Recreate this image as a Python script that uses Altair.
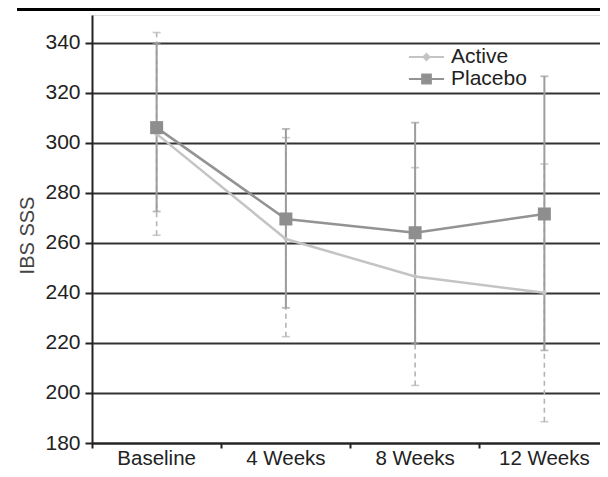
import altair as alt
import pandas as pd

timepoints = ["Baseline", "4 Weeks", "8 Weeks", "12 Weeks"]
treatments = ["Active", "Placebo"]

active_mean = [303.5, 261.5, 246.5, 240.0]
active_low = [263.0, 222.5, 203.0, 188.5]
active_high = [344.0, 302.0, 290.0, 291.5]

placebo_mean = [306.0, 269.5, 264.0, 271.5]
placebo_low = [272.5, 234.0, 219.5, 217.0]
placebo_high = [339.5, 305.5, 308.0, 326.5]

y_ticks = [180, 200, 220, 240, 260, 280, 300, 320, 340]

rows = []
for t, m, lo, hi in zip(timepoints, active_mean, active_low, active_high):
    rows.append({"Treatment": "Active", "Time": t, "mean": m, "low": lo, "high": hi})
for t, m, lo, hi in zip(timepoints, placebo_mean, placebo_low, placebo_high):
    rows.append({"Treatment": "Placebo", "Time": t, "mean": m, "low": lo, "high": hi})
df = pd.DataFrame(rows)

FONT = "Liberation Sans"
W, H = 508, 428
XRANGE = 517  # band extent (last band runs to the page edge)

xenc = alt.X(
    "Time:N",
    sort=timepoints,
    scale=alt.Scale(type="band", paddingInner=0, paddingOuter=0, range=[0, XRANGE]),
    axis=alt.Axis(
        title=None, bandPosition=0, grid=False, labelAngle=0,
        domainColor="#222", domainWidth=2, tickColor="#222", tickWidth=2,
        tickSize=5, labelPadding=0, labelFont=FONT, labelFontSize=20.5,
        labelColor="#222",
    ),
)

yscale = alt.Scale(domain=[180, 351], nice=False, zero=False)
yaxis = alt.Axis(
    values=y_ticks, title="IBS SSS", grid=True, gridColor="#333", gridWidth=2,
    domainColor="#222", domainWidth=2, tickColor="#222", tickWidth=2, tickSize=7,
    labelPadding=5, labelFont=FONT, labelFontSize=21, labelColor="#222",
    titleFont=FONT, titleFontSize=20, titleFontWeight="normal", titleColor="#444",
    titleX=-59, titleY=220, titleAngle=-90, titleAlign="center",
    titleBaseline="alphabetic",
)


def Y(field):
    return alt.Y(field, scale=yscale, axis=yaxis, title="IBS SSS")


base = alt.Chart(df)
act = base.transform_filter(alt.datum.Treatment == "Active")
plc = base.transform_filter(alt.datum.Treatment == "Placebo")

ACT_C = "#c4c4c4"
ACT_EB = "#b4b4b4"
PLC_C = "#939393"
PLC_EB = "#9c9c9c"
PLC_SQ = "#8e8e8e"

# error bars
act_rule = act.mark_rule(color=ACT_EB, strokeWidth=1.6, strokeDash=[5, 4]).encode(
    x=xenc, y=Y("low:Q"), y2="high:Q"
)
act_caps = act.transform_fold(["low", "high"], as_=["k", "v"]).mark_tick(
    color=ACT_EB, size=8, thickness=1.6
).encode(x=xenc, y=Y("v:Q"))
plc_rule = plc.mark_rule(color=PLC_EB, strokeWidth=2).encode(
    x=xenc, y=Y("low:Q"), y2="high:Q"
)
plc_caps = plc.transform_fold(["low", "high"], as_=["k", "v"]).mark_tick(
    color=PLC_EB, size=8, thickness=1.8
).encode(x=xenc, y=Y("v:Q"))

act_line = act.mark_line(strokeWidth=2.5, color=ACT_C).encode(x=xenc, y=Y("mean:Q"))
plc_line = plc.mark_line(strokeWidth=2.5, color=PLC_C).encode(x=xenc, y=Y("mean:Q"))

act_pts = act.mark_point(shape="diamond", filled=True, size=30, color=ACT_C, opacity=1).encode(
    x=xenc, y=Y("mean:Q")
)
plc_pts = plc.mark_point(shape="square", filled=True, size=169, color=PLC_SQ, opacity=1).encode(
    x=xenc, y=Y("mean:Q")
)

# legend (symbols: line + marker)
act_path = "M-1.6,0L1.6,0M0,-0.28L0.28,0L0,0.28L-0.28,0Z"
plc_path = "M-1.6,0L1.6,0M-0.4,-0.4L0.4,-0.4L0.4,0.4L-0.4,0.4Z"
leg = alt.Legend(
    title=None, orient="none", legendX=322.5, legendY=30, padding=0,
    symbolSize=484, symbolStrokeWidth=2, symbolOpacity=1,
    labelFont=FONT, labelFontSize=21, labelColor="#222", labelOffset=12.5,
    rowPadding=0,
)
legend_layer = base.mark_point(size=0, opacity=0).encode(
    x=xenc, y=Y("mean:Q"),
    shape=alt.Shape("Treatment:N", scale=alt.Scale(domain=treatments, range=[act_path, plc_path]), legend=leg),
    fill=alt.Fill("Treatment:N", scale=alt.Scale(domain=treatments, range=[ACT_C, PLC_SQ]), legend=leg),
    stroke=alt.Stroke("Treatment:N", scale=alt.Scale(domain=treatments, range=[ACT_C, PLC_C]), legend=leg),
)

top_bar = alt.Chart(pd.DataFrame({"a": [0]})).mark_rule(color="black", strokeWidth=3).encode(
    x=alt.value(-75), x2=alt.value(W + 10), y=alt.value(-5.5)
)

chart = alt.layer(
    act_rule, act_caps, plc_rule, plc_caps, act_line, plc_line, act_pts, plc_pts,
    legend_layer, top_bar,
).properties(
    width=W, height=H,
    autosize=alt.AutoSizeParams(type="none"),
    padding={"left": 84, "top": 7, "right": 0, "bottom": 26},
).configure_view(stroke="transparent").configure(background="white")

chart.save("out.html", embed_options={"renderer": "svg", "actions": False})
